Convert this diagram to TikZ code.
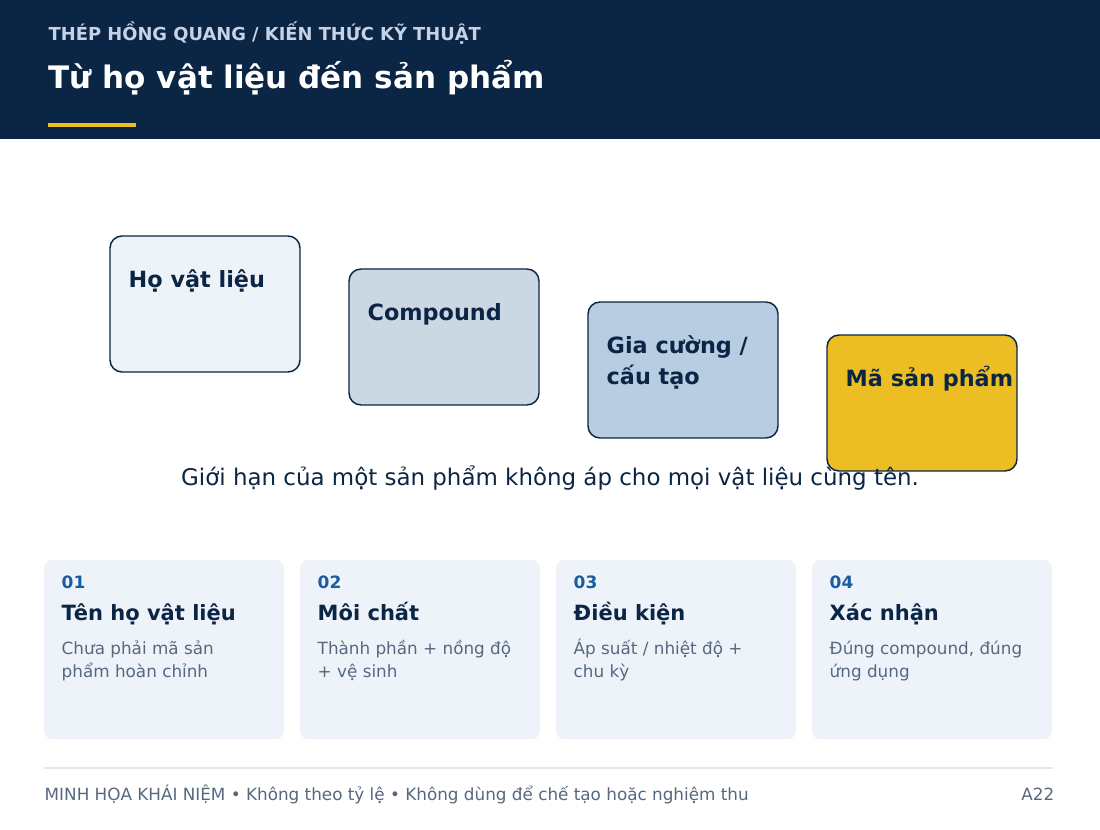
\documentclass[tikz,border=0pt]{standalone}
\usepackage{fontspec}
\setmainfont{DejaVu Sans}
\usepackage{tikz}

\definecolor{navy}{HTML}{0B2545}
\definecolor{kickergrey}{HTML}{C6D3E6}
\definecolor{gold}{HTML}{EDBE23}
\definecolor{paleblue}{HTML}{EEF3FA}
\definecolor{midblue}{HTML}{CBD7E3}
\definecolor{steelblue}{HTML}{B8CCE2}
\definecolor{numblue}{HTML}{175DA0}
\definecolor{slategrey}{HTML}{56687F}
\definecolor{ruleline}{HTML}{E2E7EF}

\begin{document}
\begin{tikzpicture}[x=0.75pt, y=-0.75pt, line width=1.1pt,
  txt/.style={inner sep=0pt, anchor=base west},
  stage/.style={draw=navy, rounded corners=9pt},
  card/.style={fill=paleblue, rounded corners=6pt},
  stagefont/.style={font=\fontsize{16.75}{20}\selectfont\bfseries, text=navy},
  numfont/.style={font=\fontsize{12.75}{15}\selectfont\bfseries, text=numblue},
  headfont/.style={font=\fontsize{15.75}{19}\selectfont\bfseries, text=navy},
  descfont/.style={font=\fontsize{12.6}{15}\selectfont, text=slategrey}]

\useasboundingbox (0,0) rectangle (1100,830);

% draw header band
\fill[navy] (0,0) rectangle (1100,139);
\node[txt, font=\fontsize{13.4}{16}\selectfont\bfseries, text=kickergrey] (kicker) at (48,41) {THÉP HỒNG QUANG / KIẾN THỨC KỸ THUẬT};
\node[txt, font=\fontsize{23.25}{28}\selectfont\bfseries, text=white] (title) at (48,89) {Từ họ vật liệu đến sản phẩm};
\fill[gold] (48,123) rectangle (136,127);

% draw staircase of stages
\filldraw[stage, fill=paleblue] (110,236) rectangle (300,372);
\node[txt, stagefont] (family) at (128,288) {Họ vật liệu};

\filldraw[stage, fill=midblue] (349,269) rectangle (539,405);
\node[txt, stagefont] (compound) at (367,321) {Compound};

\filldraw[stage, fill=steelblue] (588,302) rectangle (778,438);
\node[txt, stagefont] (reinforce) at (606,354) {Gia cường /};
\node[txt, stagefont] (structure) at (606,385) {cấu tạo};

\filldraw[stage, fill=gold] (827,335) rectangle (1017,471);
\node[txt, stagefont] (product) at (845,387) {Mã sản phẩm};

% draw caption
\node[inner sep=0pt, anchor=base, font=\fontsize{17.2}{21}\selectfont, text=navy] (caption) at (550,486) {Giới hạn của một sản phẩm không áp cho mọi vật liệu cùng tên.};

% draw cards
\fill[card] (44,560) rectangle (284,739);
\node[txt, numfont] (num1) at (61,588) {01};
\node[txt, headfont] (head1) at (61,620) {Tên họ vật liệu};
\node[txt, descfont] (desc1a) at (61,654) {Chưa phải mã sản};
\node[txt, descfont] (desc1b) at (61,677) {phẩm hoàn chỉnh};

\fill[card] (300,560) rectangle (540,739);
\node[txt, numfont] (num2) at (317,588) {02};
\node[txt, headfont] (head2) at (317,620) {Môi chất};
\node[txt, descfont] (desc2a) at (317,654) {Thành phần + nồng độ};
\node[txt, descfont] (desc2b) at (317,677) {+ vệ sinh};

\fill[card] (556,560) rectangle (796,739);
\node[txt, numfont] (num3) at (573,588) {03};
\node[txt, headfont] (head3) at (573,620) {Điều kiện};
\node[txt, descfont] (desc3a) at (573,654) {Áp suất / nhiệt độ +};
\node[txt, descfont] (desc3b) at (573,677) {chu kỳ};

\fill[card] (812,560) rectangle (1052,739);
\node[txt, numfont] (num4) at (829,588) {04};
\node[txt, headfont] (head4) at (829,620) {Xác nhận};
\node[txt, descfont] (desc4a) at (829,654) {Đúng compound, đúng};
\node[txt, descfont] (desc4b) at (829,677) {ứng dụng};

% draw footer
\draw[ruleline, line width=1.5pt] (44,768) -- (1053,768);
\node[txt, font=\fontsize{12.6}{15}\selectfont, text=slategrey] (footnote) at (44,800) {MINH HỌA KHÁI NIỆM • Không theo tỷ lệ • Không dùng để chế tạo hoặc nghiệm thu};
\node[inner sep=0pt, anchor=base east, font=\fontsize{12.6}{15}\selectfont, text=slategrey] (pageno) at (1055,800) {A22};

\end{tikzpicture}
\end{document}
